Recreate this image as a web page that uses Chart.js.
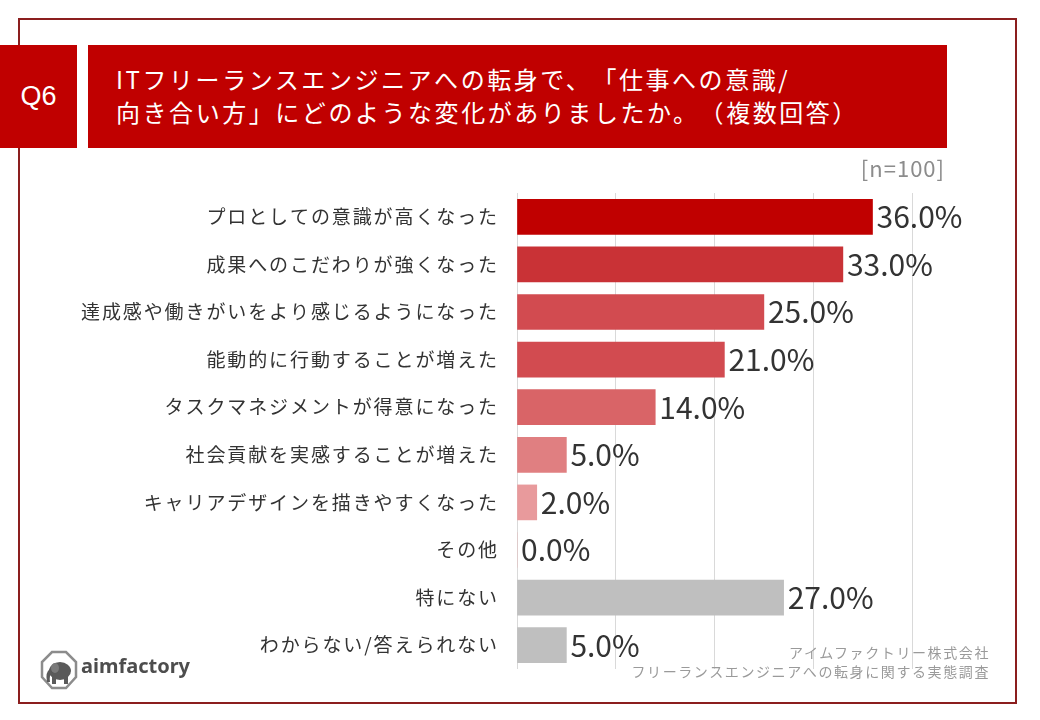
<!DOCTYPE html>
<html lang="ja">
<head>
<meta charset="utf-8">
<script src="https://cdn.jsdelivr.net/npm/chart.js@4/dist/chart.umd.min.js"></script>
<style>
  body { margin: 0; background: #fff; }
  #page { position: relative; width: 1040px; height: 720px; overflow: hidden; font-family: 'Noto Sans CJK JP', 'Noto Sans', sans-serif; text-spacing-trim: space-all; }
  #frame { position: absolute; left: 18px; top: 18px; width: 999px; height: 686px; border: 2px solid #8b1e1e; box-sizing: border-box; }
  #qbox { position: absolute; left: 0; top: 45px; width: 77px; height: 103px; background: #c00000; color: #fff;
          font: 27px 'Liberation Sans', Arial, sans-serif; display: flex; align-items: center; justify-content: center; }
  #tbox { position: absolute; left: 88px; top: 45px; width: 859px; height: 103px; background: #c00000; color: #fff;
          font-size: 24px; letter-spacing: 2.55px; line-height: 33px; padding: 17px 0 0 28px; box-sizing: border-box; white-space: nowrap; }
  #n { position: absolute; right: 95px; top: 151px; color: #8c8c8c; font-size: 22px; letter-spacing: 1px; }
  #src { position: absolute; right: 50px; top: 643px; color: #9a9a9a; font-size: 14px; letter-spacing: 1.6px; line-height: 19px; text-align: right; }
  #logo { position: absolute; left: 40px; top: 650px; }
  #logotxt { position: absolute; left: 81px; top: 652px; font: bold 20px 'Noto Sans', sans-serif; color: #4d4d4d; }
  canvas { position: absolute; left: 0; top: 0; }
</style>
</head>
<body>
<div id="page">
  <div id="frame"></div>
  <canvas id="chart" width="1040" height="720"></canvas>
  <div id="qbox">Q6</div>
  <div id="tbox">ITフリーランスエンジニアへの転身で、「仕事への意識/<br>向き合い方」にどのような変化がありましたか。（複数回答）</div>
  <div id="n">[n=100]</div>
  <div id="src">アイムファクトリー株式会社<br>フリーランスエンジニアへの転身に関する実態調査</div>
  <svg id="logo" width="38" height="40" viewBox="0 0 38 40">
    <polygon points="12,2 26,2 36,12 36,27 26,38 12,38 2,27 2,12" fill="#fff" stroke="#8c8c8c" stroke-width="2.5"/>
    <ellipse cx="20" cy="21" rx="11" ry="9" fill="#5a5a5a"/>
    <path d="M10 19 Q5 22 7 32 L10 32 Q9 25 12 23 Z" fill="#5a5a5a"/>
    <rect x="12" y="26" width="4" height="8" fill="#5a5a5a"/>
    <rect x="24" y="26" width="4" height="8" fill="#5a5a5a"/>
    <ellipse cx="15" cy="18" rx="4" ry="5" fill="#7a7a7a"/>
  </svg>
  <div id="logotxt">aimfactory</div>
</div>
<script>
// 項目（上から順）
const categories = [
  "プロとしての意識が高くなった",
  "成果へのこだわりが強くなった",
  "達成感や働きがいをより感じるようになった",
  "能動的に行動することが増えた",
  "タスクマネジメントが得意になった",
  "社会貢献を実感することが増えた",
  "キャリアデザインを描きやすくなった",
  "その他",
  "特にない",
  "わからない/答えられない"
];
// 回答率（%）
const values = [36.0, 33.0, 25.0, 21.0, 14.0, 5.0, 2.0, 0.0, 27.0, 5.0];
// バーの色
const barColors = ["#c00000", "#c93236", "#d24b50", "#d24b50", "#d96467", "#e07f81", "#e89a9c", "#e8b0b1", "#bfbfbf", "#bfbfbf"];
// 軸の目盛り
const axisMin = 0, axisMax = 40, axisStep = 10;

// 項目名（字間あり）とバーの右の数値
const textPlugin = {
  id: "textPlugin",
  afterDatasetsDraw(chart) {
    const ctx = chart.ctx;
    const y = chart.scales.y;
    ctx.save();
    ctx.font = "19px 'Noto Sans CJK JP', sans-serif";
    ctx.letterSpacing = "1.9px";
    ctx.fillStyle = "#333333";
    ctx.textAlign = "right";
    ctx.textBaseline = "middle";
    categories.forEach((c, i) => {
      ctx.fillText(c, chart.chartArea.left - 18, y.getPixelForTick(i));
    });
    ctx.letterSpacing = "0px";
    ctx.font = "30px 'Noto Sans CJK JP', sans-serif";
    ctx.textAlign = "left";
    const meta = chart.getDatasetMeta(0);
    meta.data.forEach((bar, i) => {
      ctx.fillText(values[i].toFixed(1) + "%", bar.x + 4, bar.y);
    });
    ctx.restore();
  }
};

new Chart(document.getElementById("chart"), {
  type: "bar",
  data: {
    labels: categories,
    datasets: [{
      data: values,
      backgroundColor: barColors,
      borderWidth: 0,
      barThickness: 35
    }]
  },
  options: {
    indexAxis: "y",
    responsive: false,
    animation: false,
    layout: { padding: { left: 60, right: 128, top: 193, bottom: 51 } },
    scales: {
      x: {
        min: axisMin, max: axisMax,
        ticks: { display: false, stepSize: axisStep },
        grid: { color: "#d9d9d9", lineWidth: 1, drawTicks: false },
        border: { display: false },
        afterFit(s) { s.height = 0; }
      },
      y: {
        ticks: { display: false },
        grid: { display: false, drawTicks: false },
        border: { display: false },
        afterFit(s) { s.width = 457; }
      }
    },
    plugins: { legend: { display: false }, tooltip: { enabled: false } }
  },
  plugins: [textPlugin]
});
</script>
</body>
</html>
